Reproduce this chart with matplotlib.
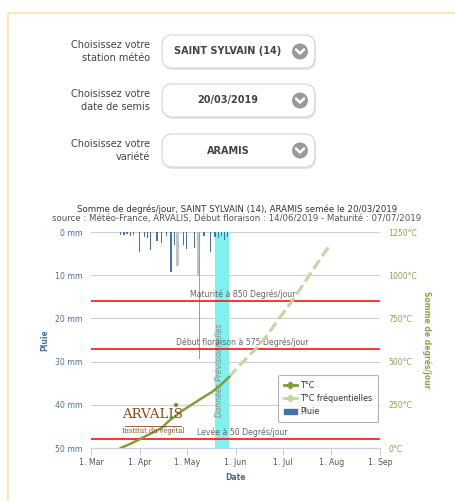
import matplotlib
matplotlib.use("Agg")
import matplotlib.pyplot as plt
from matplotlib.patches import FancyBboxPatch, Ellipse, Patch
from matplotlib.lines import Line2D
from datetime import datetime

plt.rcParams['font.family'] = ['DejaVu Sans']

# ---------------- data ----------------
form_labels = ["Choisissez votre\nstation météo", "Choisissez votre\ndate de semis", "Choisissez votre\nvariété"]
form_values = ["SAINT SYLVAIN (14)", "20/03/2019", "ARAMIS"]

title = "Somme de degrés/jour, SAINT SYLVAIN (14), ARAMIS semée le 20/03/2019"
subtitle = "source : Météo-France, ARVALIS, Début floraison : 14/06/2019 - Maturité : 07/07/2019"

rain_dates = ["2019-03-20", "2019-03-22", "2019-03-24", "2019-03-26", "2019-03-28",
              "2019-04-01", "2019-04-04", "2019-04-06", "2019-04-08", "2019-04-12",
              "2019-04-15", "2019-04-18", "2019-04-21", "2019-04-23", "2019-04-29",
              "2019-05-01", "2019-05-06", "2019-05-12", "2019-05-16", "2019-05-19",
              "2019-05-21", "2019-05-23", "2019-05-25", "2019-05-27"]
rain_mm = [0.6, 0.8, 0.5, 1.0, 0.7,
           4.6, 1.2, 1.5, 4.2, 2.0,
           2.5, 1.0, 9.3, 3.0, 3.0,
           4.0, 3.7, 1.0, 4.6, 1.2,
           1.5, 1.0, 1.8, 1.2]
rain_grey_dates = ["2019-04-25", "2019-05-08"]
rain_grey_mm = [7.8, 10.2]
rain_dark_dates = ["2019-05-09"]
rain_dark_mm = [29.5]

temp_dates = ["2019-03-20", "2019-03-25", "2019-03-31", "2019-04-05", "2019-04-10",
              "2019-04-15", "2019-04-20", "2019-04-23", "2019-04-28", "2019-05-04",
              "2019-05-10", "2019-05-17", "2019-05-22", "2019-05-28"]
temp_sum = [0, 20, 46, 70, 92, 116, 160, 180, 215, 250, 285, 324, 360, 411]

freq_dates = ["2019-05-28", "2019-06-02", "2019-06-07", "2019-06-14", "2019-06-21",
              "2019-06-28", "2019-07-07", "2019-07-14", "2019-07-21", "2019-07-28",
              "2019-08-01"]
freq_sum = [411, 463, 510, 575, 650, 740, 850, 945, 1040, 1135, 1180]

stage_names = ["Maturité à 850 Degrés/jour", "Début floraison à 575 Degrés/jour", "Levée à 50 Degrés/jour"]
stage_values = [850, 575, 50]

forecast_start = "2019-05-19"
forecast_end = "2019-05-28"

month_ticks = ["2019-03-01", "2019-04-01", "2019-05-01", "2019-06-01", "2019-07-01", "2019-08-01", "2019-09-01"]
month_labels = ["1. Mar", "1. Apr", "1. May", "1. Jun", "1. Jul", "1. Aug", "1. Sep"]
rain_ticks = [0, 10, 20, 30, 40, 50]
temp_ticks = [0, 250, 500, 750, 1000, 1250]

def d(s):
    return datetime.strptime(s, "%Y-%m-%d")

W, H = 456, 501
fig = plt.figure(figsize=(W / 100, H / 100), dpi=100)

def fx(x):
    return x / W

def fy(y):
    return 1 - y / H

# ---------------- page frame ----------------
frame_c = '#fbe6be'
fig.add_artist(Line2D([fx(8), 1], [fy(13), fy(13)], color=frame_c, lw=1.5, transform=fig.transFigure))
fig.add_artist(Line2D([fx(8), fx(8)], [fy(13), 0], color=frame_c, lw=1.5, transform=fig.transFigure))

# ---------------- form ----------------
box_tops = [35, 84, 134]
for lab, val, top in zip(form_labels, form_values, box_tops):
    cy = top + 16.5
    fig.text(fx(150), fy(cy), lab, ha='right', va='center', fontsize=7, color='#444444',
             linespacing=1.35)
    sh = FancyBboxPatch((fx(163), fy(top + 35)), fx(153), (34 / H),
                        boxstyle="round,pad=0,rounding_size=0.022", transform=fig.transFigure,
                        facecolor='#e3e3e3', edgecolor='none', zorder=1)
    fig.add_artist(sh)
    bx = FancyBboxPatch((fx(162), fy(top + 33)), fx(153), (33 / H),
                        boxstyle="round,pad=0,rounding_size=0.022", transform=fig.transFigure,
                        facecolor='white', edgecolor='#d4d4d4', lw=0.8, zorder=2)
    fig.add_artist(bx)
    fig.text(fx(228), fy(cy), val, ha='center', va='center', fontsize=7, fontweight='bold',
             color='#444444', zorder=3)
    fig.add_artist(Ellipse((fx(300), fy(cy)), 16 / W, 16 / H, transform=fig.transFigure,
                           facecolor='#9a9a9a', edgecolor='none', zorder=3))
    fig.add_artist(Line2D([fx(296), fx(300), fx(304)], [fy(cy - 2), fy(cy + 2), fy(cy - 2)],
                          color='white', lw=1.8, transform=fig.transFigure, zorder=4,
                          solid_capstyle='round', solid_joinstyle='round'))

# ---------------- chart ----------------
L, R, T, B = 91, 380, 232, 448
ax = fig.add_axes([fx(L), fy(B), fx(R - L), (B - T) / H])
ax2 = ax.twinx()

ax.set_xlim(d("2019-03-01"), d("2019-09-01"))
ax.set_ylim(50, 0)
ax2.set_ylim(0, 1250)

# forecast band
ax.axvspan(d(forecast_start), d(forecast_end), color='#7ff2ee', zorder=1, lw=0)
ax.text(d(forecast_start) + (d(forecast_end) - d(forecast_start)) * 0.3, 32.0,
        "Données Prévisionnelles", rotation=90, ha='center', va='center',
        fontsize=5.5, style='italic', color='#8a8a8a', zorder=2)

# grid
ax.set_yticks(rain_ticks)
ax.yaxis.grid(True, color='#d0d0d0', lw=0.8, zorder=0)
ax.set_axisbelow(True)

# rain bars
ax.bar([d(s) for s in rain_grey_dates], rain_grey_mm, width=1.6, color='#c4c4c4', zorder=3)
ax.bar([d(s) for s in rain_dark_dates], rain_dark_mm, width=0.6, color='#9c9c9c', zorder=3)
ax.bar([d(s) for s in rain_dates], rain_mm, width=0.8, color='#4572A7', zorder=3)

# stage lines
for name, v in zip(stage_names, stage_values):
    ax2.axhline(v, color='#ff1010', lw=1.2, zorder=3)
    ax2.text(0.525, v + 12, name, transform=ax2.get_yaxis_transform(), ha='center',
             va='bottom', fontsize=5.6, color='#666666', zorder=4)

# temperature curves
ax2.plot([d(s) for s in freq_dates], freq_sum, color='#c3d6a2', lw=2.2,
         dashes=(3.5, 1.5), zorder=5)
ax2.plot([d(s) for s in temp_dates], temp_sum, color='#7f9f3a', lw=1.8, zorder=6)

# axes styling
for a in (ax, ax2):
    for sp in ('top', 'left', 'right'):
        a.spines[sp].set_visible(False)
ax.spines['bottom'].set_color('#C0D0E0')
ax2.spines['bottom'].set_visible(False)

ax.set_xticks([d(s) for s in month_ticks])
ax.set_xticklabels(month_labels)
ax.tick_params(axis='x', length=5, color='#C0D0E0', labelsize=5.6, labelcolor='#555555', pad=2)
ax.set_yticklabels([f"{v} mm" for v in rain_ticks])
ax.tick_params(axis='y', length=0, labelsize=5.6, labelcolor='#4d6fa3', pad=6)
ax2.set_yticks(temp_ticks)
ax2.set_yticklabels([f"{v}°C" for v in temp_ticks])
ax2.tick_params(axis='y', length=0, labelsize=5.6, labelcolor='#89A54E', pad=6)

fig.text(fx(45), fy(340), "Pluie", rotation=90, ha='center', va='center', fontsize=5.5,
         fontweight='bold', color='#4572A7')
fig.text(fx(427), fy(340), "Somme de degrés/jour", rotation=-90, ha='center', va='center',
         fontsize=5.5, fontweight='bold', color='#89A54E')
fig.text(fx(236), fy(478), "Date", ha='center', va='center', fontsize=5.5,
         fontweight='bold', color='#4d6a8f')

fig.text(fx(237), fy(209), title, ha='center', va='center', fontsize=6.2, color='#333333')
fig.text(fx(237), fy(219), subtitle, ha='center', va='center', fontsize=6.2, color='#555555')

# legend
handles = [Line2D([], [], color='#7f9f3a', lw=2, marker='D', markersize=3.5),
           Line2D([], [], color='#c3d6a2', lw=2, marker='D', markersize=3.5),
           Patch(facecolor='#4572A7', edgecolor='#4572A7')]
leg = ax2.legend(handles, ["T°C", "T°C fréquentielles", "Pluie"], loc='upper left',
                 bbox_to_anchor=(fx(278), fy(375)), bbox_transform=fig.transFigure,
                 fontsize=5.8, frameon=True, fancybox=True, handlelength=1.6,
                 handletextpad=0.5, borderpad=0.7, labelspacing=0.5, borderaxespad=0)
leg.get_frame().set_edgecolor('#a0a0a0')
leg.get_frame().set_linewidth(0.8)
leg.set_zorder(10)
for t in leg.get_texts():
    t.set_color('#333333')

# logo
fig.text(fx(153), fy(414), "ARVALIS", ha='center', va='center', fontsize=9.5,
         family='DejaVu Serif', color='#8a4a1c')
fig.text(fx(153), fy(431), "Institut du végétal", ha='center', va='center', fontsize=4.8,
         family='DejaVu Serif', color='#8a4a1c')
fig.add_artist(Line2D([fx(125), fx(181)], [fy(426), fy(426)], color='#8a4a1c', lw=0.6,
                      transform=fig.transFigure))
fig.add_artist(Ellipse((fx(176), fy(405)), 4 / W, 4 / H, transform=fig.transFigure,
                       facecolor='#3c8c3c', edgecolor='#b8d040', lw=0.5))

fig.savefig("out.png", dpi=100)
